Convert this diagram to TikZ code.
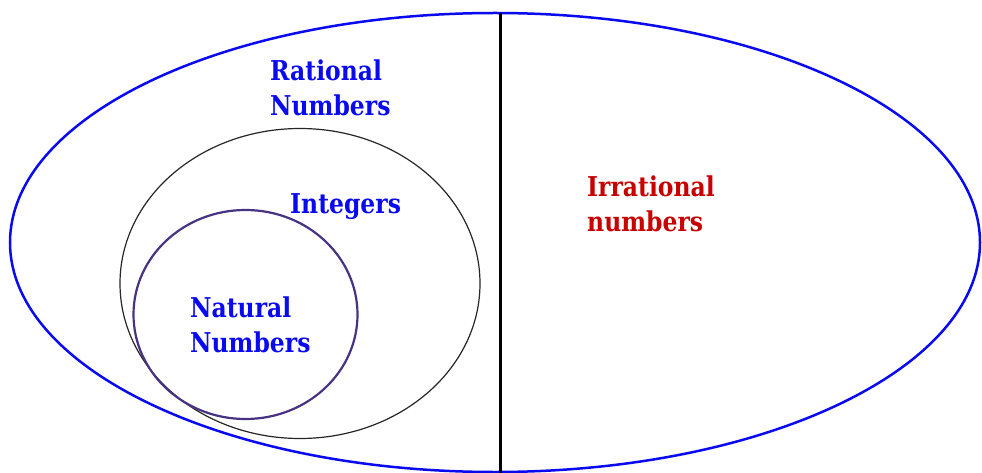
\documentclass[tikz,border=0pt]{standalone}
\usepackage{fontspec}
\setmainfont{DejaVu Serif}[FakeStretch=0.86]
\definecolor{ratblue}{RGB}{10,10,240}
\definecolor{irrred}{RGB}{200,0,0}
\definecolor{natpurple}{RGB}{72,50,130}
\begin{document}
\begin{tikzpicture}[x=1pt,y=-1pt,
  lbl/.style={font=\bfseries\fontsize{27.3}{35}\selectfont, inner sep=0pt, anchor=base west, align=left}]
\useasboundingbox (0,0) rectangle (982,473);
% outer ellipse (real numbers)
\draw[ratblue, line width=2.5pt] (495,242.5) ellipse [x radius=485pt, y radius=229.5pt];
% dividing line
\coordinate (top) at (500.5,13);
\coordinate (bot) at (500.5,473);
\draw[black, line width=2.6pt] (top) -- (bot);
% integers
\draw[black!85, line width=1.2pt] (300,283.5) ellipse [x radius=180pt, y radius=155pt];
% natural numbers
\draw[natpurple, line width=2.2pt] (245.5,314.5) ellipse [x radius=112pt, y radius=104.5pt];
% labels (anchor = baseline of the last line)
\node[lbl, text=ratblue] (rat) at (270,116) {Rational\\Numbers};
\node[lbl, text=ratblue] (int) at (290,213) {Integers};
\node[lbl, text=ratblue] (nat) at (190,352) {Natural\\Numbers};
\node[lbl, text=irrred] (irr) at (587,231.5) {Irrational\\numbers};
\end{tikzpicture}
\end{document}
